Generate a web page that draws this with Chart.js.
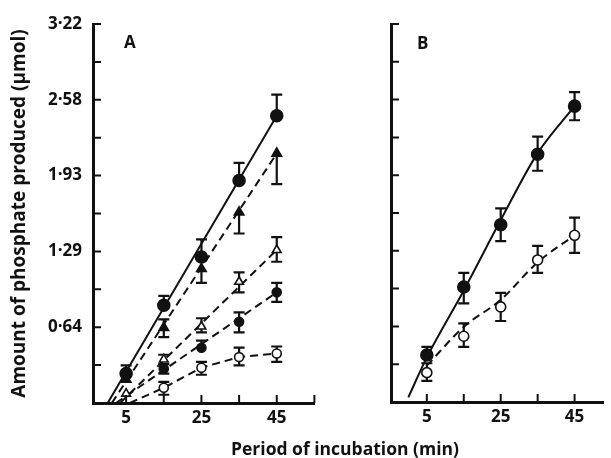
<!doctype html>
<html><head>
<script src="https://cdn.jsdelivr.net/npm/chart.js"></script>
<style>
body { margin: 0; background: #fff; }
#page { position: relative; width: 611px; height: 458px; overflow: hidden; font-family: 'Open Sans', sans-serif; font-weight: bold; color: #111; }
.box { position: absolute; top: 0; height: 458px; }
.lbl { position: absolute; font-size: 17px; line-height: 17px; }
#xtitle { position: absolute; left: 0; width: 690px; top: 438px; text-align: center; font-size: 17.5px; line-height: 20px; }
</style>
</head><body>
<div id="page">
  <div class="box" style="left:0;width:322px"><canvas id="chartA"></canvas></div>
  <div class="box" style="left:300px;width:311px"><canvas id="chartB"></canvas></div>
  <div class="lbl" style="left:124px;top:33px">A</div>
  <div class="lbl" style="left:417px;top:34px">B</div>
  <div id="xtitle">Period of incubation (min)</div>
</div>
<script>
// incubation times (min)
var times = [5, 15, 25, 35, 45];
var times4 = [15, 25, 35, 45];

// panel A, symbols and error bar ends
var aCircle = [0.25, 0.83, 1.24, 1.89, 2.44];
var aCircleLo = [0.25, 0.83, 1.24, 1.89, 2.44];
var aCircleHi = [0.32, 0.91, 1.39, 2.04, 2.62];
var aTri = [0.20, 0.64, 1.14, 1.62, 2.12];
var aTriLo = [0.20, 0.56, 1.02, 1.44, 1.86];
var aTriHi = [0.20, 0.71, 1.14, 1.62, 2.12];
var aOpenTri = [0.08, 0.37, 0.65, 1.03, 1.30];
var aOpenTriLo = [0.08, 0.37, 0.60, 0.94, 1.20];
var aOpenTriHi = [0.08, 0.41, 0.72, 1.11, 1.41];
var aDot = [0.29, 0.47, 0.69, 0.94];
var aDotLo = [0.25, 0.47, 0.60, 0.86];
var aDotHi = [0.33, 0.53, 0.77, 1.02];
var aOpen = [0.13, 0.30, 0.39, 0.42];
var aOpenLo = [0.07, 0.24, 0.32, 0.35];
var aOpenHi = [0.18, 0.35, 0.47, 0.48];

// panel A, drawn lines
var aCircleFitX = [0.1, 45], aCircleFitY = [0, 2.44];
var aTriFitX = [1.2, 45], aTriFitY = [0, 2.12];
var aOpenTriFitX = [3.4, 45], aOpenTriFitY = [0, 1.30];
var aDotFitX = [2.3, 45], aDotFitY = [0, 0.94];
var aOpenLineX = [6, 15, 25, 35, 45], aOpenLineY = [0, 0.13, 0.30, 0.39, 0.42];

// panel B
var bCircle = [0.40, 0.98, 1.51, 2.11, 2.52];
var bCircleLo = [0.40, 0.84, 1.37, 1.97, 2.40];
var bCircleHi = [0.47, 1.10, 1.65, 2.26, 2.64];
var bOpen = [0.25, 0.56, 0.81, 1.21, 1.42];
var bOpenLo = [0.18, 0.47, 0.69, 1.10, 1.27];
var bOpenHi = [0.33, 0.67, 0.93, 1.33, 1.57];
var bCircleCurveX = [0, 5, 15, 25, 35, 45], bCircleCurveY = [0.04, 0.38, 0.95, 1.55, 2.12, 2.52];
var bOpenCurveX = [5, 15, 25, 35, 45], bOpenCurveY = [0.31, 0.64, 0.87, 1.19, 1.42];

// axes
var xTickMarks = [5, 15, 25, 35, 45, 55];
var xTickLabels = {5: '5', 25: '25', 45: '45'};
var yTickMarks = [0.322, 0.644, 0.966, 1.288, 1.61, 1.932, 2.254, 2.576, 2.898, 3.22];
var yLabelValues = [0.644, 1.288, 1.932, 2.576, 3.22];
var yLabelTexts = ['0·64', '1·29', '1·93', '2·58', '3·22'];

var ink = '#111';
var tickFont = { family: 'Open Sans', size: 17, weight: 'bold' };

function pts(xs, ys) {
    return xs.map(function(x, i) { return { x: x, y: ys[i] }; });
}

var errorBars = {
    id: 'errorBars',
    beforeDatasetsDraw: function(chart) {
        var ctx = chart.ctx, xs = chart.scales.x, ys = chart.scales.y;
        ctx.save();
        ctx.strokeStyle = ink;
        ctx.lineWidth = 2.2;
        chart.data.datasets.forEach(function(ds) {
            if (!ds.errLo) return;
            ds.data.forEach(function(p, i) {
                var px = xs.getPixelForValue(p.x);
                var lo = ys.getPixelForValue(ds.errLo[i]);
                var hi = ys.getPixelForValue(ds.errHi[i]);
                ctx.beginPath();
                ctx.moveTo(px, lo); ctx.lineTo(px, hi);
                if (ds.errHi[i] > p.y) { ctx.moveTo(px - 5.5, hi); ctx.lineTo(px + 5.5, hi); }
                if (ds.errLo[i] < p.y) { ctx.moveTo(px - 5.5, lo); ctx.lineTo(px + 5.5, lo); }
                ctx.stroke();
            });
        });
        ctx.restore();
    }
};

// tick marks pointing into the plot
var innerTicks = {
    id: 'innerTicks',
    afterDraw: function(chart) {
        var ctx = chart.ctx, xs = chart.scales.x, ys = chart.scales.y, a = chart.chartArea;
        ctx.save();
        ctx.strokeStyle = ink;
        ctx.lineWidth = 2;
        ctx.beginPath();
        yTickMarks.forEach(function(v) {
            var py = ys.getPixelForValue(v);
            ctx.moveTo(a.left, py); ctx.lineTo(a.left + 8, py);
        });
        xTickMarks.forEach(function(v) {
            if (v > xs.max) return;
            var px = xs.getPixelForValue(v);
            ctx.moveTo(px, a.bottom); ctx.lineTo(px, a.bottom - 8);
        });
        ctx.stroke();
        ctx.restore();
    }
};

function marker(data, lo, hi, style, r, fill) {
    return {
        data: data, errLo: lo, errHi: hi, pointStyle: style, pointRadius: r,
        backgroundColor: fill, borderColor: ink, borderWidth: 1.6, showLine: false, order: 1
    };
}

function line(data, dashed, curve) {
    return {
        data: data, showLine: true, pointRadius: 0, borderColor: ink, borderWidth: 2,
        borderDash: dashed ? [8, 5] : [], cubicInterpolationMode: curve ? 'monotone' : 'default',
        order: 2
    };
}

function makeChart(id, datasets, xMin, xMax, yWidth, xHeight, showY, pad) {
    return new Chart(document.getElementById(id), {
        type: 'scatter',
        data: { datasets: datasets },
        options: {
            responsive: true,
            maintainAspectRatio: false,
            animation: false,
            layout: { padding: pad },
            plugins: { legend: { display: false }, tooltip: { enabled: false } },
            scales: {
                x: {
                    type: 'linear', min: xMin, max: xMax,
                    afterBuildTicks: function(s) { s.ticks = xTickMarks.filter(function(v) { return v <= xMax; }).map(function(v) { return { value: v }; }); },
                    afterFit: function(s) { s.height = xHeight; },
                    grid: { drawOnChartArea: false, drawTicks: false },
                    border: { display: true, width: 3, color: ink },
                    ticks: {
                        autoSkip: false, maxRotation: 0, padding: 5, color: ink, font: tickFont,
                        callback: function(v) { return xTickLabels[v] || ''; }
                    }
                },
                y: {
                    type: 'linear', min: 0, max: 3.22,
                    afterBuildTicks: function(s) { s.ticks = yTickMarks.map(function(v) { return { value: v }; }); },
                    afterFit: function(s) { s.width = yWidth; },
                    grid: { drawOnChartArea: false, drawTicks: false },
                    border: { display: true, width: 3, color: ink },
                    ticks: {
                        display: showY, autoSkip: false, padding: 11, color: ink, font: tickFont,
                        callback: function(v) {
                            for (var i = 0; i < yLabelValues.length; i++) {
                                if (Math.abs(yLabelValues[i] - v) < 0.01) return yLabelTexts[i];
                            }
                            return '';
                        }
                    },
                    title: {
                        display: showY, text: 'Amount of phosphate produced (μmol)', color: ink,
                        font: { family: 'Open Sans', size: 19, weight: 'bold' },
                        padding: { top: 8, bottom: 0 }
                    }
                }
            }
        },
        plugins: [errorBars, innerTicks]
    });
}

makeChart('chartA', [
    marker(pts(times, aCircle), aCircleLo, aCircleHi, 'circle', 6, ink),
    marker(pts(times, aTri), aTriLo, aTriHi, 'triangle', 5.5, ink),
    marker(pts(times, aOpenTri), aOpenTriLo, aOpenTriHi, 'triangle', 5, '#fff'),
    marker(pts(times4, aDot), aDotLo, aDotHi, 'circle', 4.5, ink),
    marker(pts(times4, aOpen), aOpenLo, aOpenHi, 'circle', 4.5, '#fff'),
    line(pts(aCircleFitX, aCircleFitY), false, false),
    line(pts(aTriFitX, aTriFitY), true, false),
    line(pts(aOpenTriFitX, aOpenTriFitY), true, false),
    line(pts(aDotFitX, aDotFitY), true, false),
    line(pts(aOpenLineX, aOpenLineY), true, false)
], -3.8, 55, 93, 55, true, { top: 24, right: 6, bottom: 0, left: 0 });

makeChart('chartB', [
    marker(pts(times, bCircle), bCircleLo, bCircleHi, 'circle', 6, ink),
    marker(pts(times, bOpen), bOpenLo, bOpenHi, 'circle', 5, '#fff'),
    line(pts(bCircleCurveX, bCircleCurveY), false, true),
    line(pts(bOpenCurveX, bOpenCurveY), true, true)
], -4.7, 52.8, 91, 56, false, { top: 24, right: 0, bottom: 0, left: 0 });
</script>
</body>
</html>
